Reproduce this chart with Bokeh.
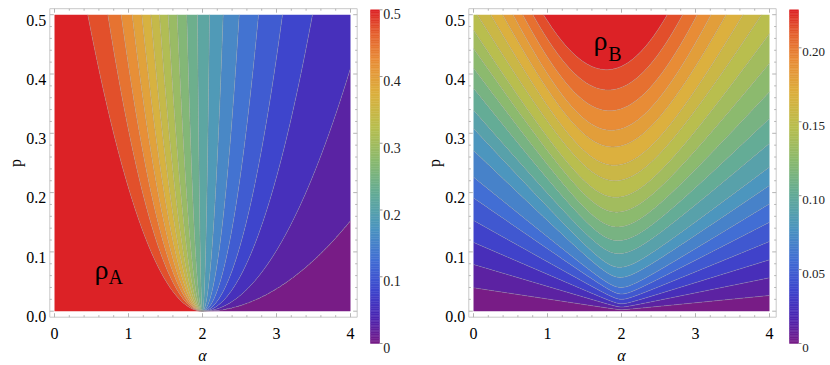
import numpy as np
from bokeh.plotting import figure
from bokeh.layouts import row
from bokeh.core.properties import value
from bokeh.embed import file_html
from bokeh.resources import INLINE

# ---------------- values ----------------
# rho_A : contour levels (0.025 apart)
levels_A = [0.025, 0.05, 0.075, 0.1, 0.125, 0.15, 0.175, 0.2, 0.225, 0.25,
            0.275, 0.3, 0.325, 0.35, 0.375, 0.4, 0.425, 0.45, 0.475]
max_A = 0.5
# contours 1-2 leave through the right edge (alpha = 4) at these p
right_edge_p_A = [0.153, 0.41]
# contours 3-19 leave through the top edge (p = 0.5) at these alpha
top_edge_alpha_A = [3.486, 3.081, 2.757, 2.496, 2.279, 2.095, 1.932, 1.788,
                    1.658, 1.536, 1.419, 1.302, 1.180, 1.050, 0.901, 0.721, 0.450]

# rho_B : contour levels (0.01 apart)
levels_B = [0.01, 0.02, 0.03, 0.04, 0.05, 0.06, 0.07, 0.08, 0.09, 0.10,
            0.11, 0.12, 0.13, 0.14, 0.15, 0.16, 0.17, 0.18, 0.19, 0.20]
max_B = 0.2257
# p where each contour meets alpha = 0 (left edge)
left_p_B = [0.0395, 0.0788, 0.116, 0.153, 0.191, 0.226, 0.271, 0.308, 0.339, 0.376,
            0.41, 0.443, 0.474, 0.51, 0.55, 0.59, 0.63, 0.67, 0.71, 0.75]
# p where each contour meets alpha = 4 (right edge)
right_p_B = [0.0265, 0.0563, 0.0867, 0.1175, 0.150, 0.181, 0.212, 0.243, 0.283, 0.325,
             0.37, 0.418, 0.468, 0.52, 0.575, 0.635, 0.70, 0.77, 0.85, 0.95]
# lowest point of each contour (alpha, p)
vertex_alpha_B = [2.0, 2.0, 2.0, 2.0, 2.0, 1.99, 1.98, 1.97, 1.96, 1.95,
                  1.94, 1.93, 1.92, 1.91, 1.90, 1.88, 1.86, 1.84, 1.82, 1.80]
vertex_p_B = [0.0024, 0.007, 0.0125, 0.020, 0.029, 0.040, 0.057, 0.074, 0.097, 0.119,
              0.142, 0.167, 0.192, 0.220, 0.246, 0.277, 0.305, 0.338, 0.373, 0.407]
# roundness of each contour's bottom
round_B = [0.02, 0.03, 0.04, 0.05, 0.06, 0.08, 0.10, 0.12, 0.15, 0.18,
           0.21, 0.25, 0.29, 0.33, 0.38, 0.44, 0.50, 0.60, 0.70, 0.80]

x_ticks = [0, 1, 2, 3, 4]
x_tick_labels = ["0", "1", "2", "3", "4"]
y_ticks = [0.0, 0.1, 0.2, 0.3, 0.4, 0.5]
y_tick_labels = ["0.0", "0.1", "0.2", "0.3", "0.4", "0.5"]
x_minor = [0.2 * i for i in range(21)]
y_minor = [0.02 * i for i in range(26)]
cb_ticks_A = [0, 0.1, 0.2, 0.3, 0.4, 0.5]
cb_labels_A = ["0", "0.1", "0.2", "0.3", "0.4", "0.5"]
cb_ticks_B = [0, 0.05, 0.10, 0.15, 0.20]
cb_labels_B = ["0", "0.05", "0.10", "0.15", "0.20"]

# ---------------- colour scale (Mathematica "Rainbow"-like) ----------------
STOPS = [(0.00, 120, 28, 134), (0.08, 75, 38, 178), (0.16, 62, 70, 205),
         (0.25, 66, 110, 212), (0.35, 76, 150, 190), (0.45, 100, 172, 150),
         (0.55, 140, 186, 110), (0.65, 185, 190, 78), (0.75, 220, 176, 62),
         (0.85, 232, 140, 54), (0.93, 228, 95, 45), (1.00, 220, 34, 38)]


def cmap(f):
    f = min(max(f, 0.0), 1.0)
    pos = [s[0] for s in STOPS]
    r = np.interp(f, pos, [s[1] for s in STOPS])
    g = np.interp(f, pos, [s[2] for s in STOPS])
    b = np.interp(f, pos, [s[3] for s in STOPS])
    return "#%02x%02x%02x" % (int(round(r)), int(round(g)), int(round(b)))


# ---------------- fields ----------------
alpha = np.linspace(0, 4, 801)
pp = np.linspace(0, 0.5, 501)
AA, PP = np.meshgrid(alpha, pp)

# rho_A depends on t = (alpha-2)/sqrt(p)
t_cross = np.concatenate([(4 - 2) / np.sqrt(np.array(right_edge_p_A)),
                          (np.array(top_edge_alpha_A) - 2) / np.sqrt(0.5)])
order = np.argsort(t_cross)
xp = np.concatenate([[-3.0], t_cross[order], [1e7]])
fp = np.concatenate([[max_A], np.array(levels_A)[order], [0.0]])
with np.errstate(divide="ignore", invalid="ignore"):
    T = np.where(PP > 0, (AA - 2) / np.sqrt(np.maximum(PP, 1e-12)), np.sign(AA - 2) * 1e7)
ZA = np.interp(T, xp, fp)

# rho_B from its contour geometry
am = np.array(vertex_alpha_B)[:, None]
pm = np.array(vertex_p_B)[:, None]
pl = np.array(left_p_B)[:, None]
pr = np.array(right_p_B)[:, None]
w = np.array(round_B)[:, None]
a = alpha[None, :]
s = np.where(a <= am, (am - a) / am, (a - am) / (4 - am))
pe = np.where(a <= am, pl, pr)
phi = (np.sqrt(s ** 2 + w ** 2) - w) / (np.sqrt(1 + w ** 2) - w)
PC = pm + (pe - pm) * phi
PC = PC + 1e-7 * np.arange(len(levels_B))[:, None]
PC = np.maximum.accumulate(PC, axis=0)
ZB = np.zeros_like(AA)
for j in range(len(alpha)):
    xpj = np.concatenate([[0.0], PC[:, j], [PC[-1, j] + 0.4]])
    fpj = np.concatenate([[0.0], levels_B, [max_B]])
    ZB[:, j] = np.interp(pp, xpj, fpj)

# ---------------- layout (page pixels; the page has no body margin) ----------------
FONT = "Liberation Serif"
PAGE_TOP = 0
H = 363
PXA = 74.0     # pixels per unit of alpha
PXP = 593.0    # pixels per unit of p
P0_Y = 310.7   # page y of p = 0
FRAME_COL = "#c8c8c8"


def main_fig(Z, levels, vmax, fig_x0, fig_w, alpha0_x, sub, rho_pos, sub_pos):
    def ax_(px):
        return (px - alpha0_x) / PXA

    def py_(py):
        return (P0_Y - py) / PXP

    fig = figure(width=fig_w, height=H,
                 x_range=(ax_(fig_x0), ax_(fig_x0 + fig_w)),
                 y_range=(py_(PAGE_TOP + H), py_(PAGE_TOP)),
                 min_border=0, x_axis_location=None, y_axis_location=None,
                 output_backend="svg", toolbar_location=None)
    fig.outline_line_color = None
    fig.background_fill_color = "white"
    fig.border_fill_color = "white"
    for g in fig.grid:
        g.visible = False

    lev = [-0.001] + list(levels) + [vmax + 0.001]
    n = len(lev) - 1
    colors = [cmap(k / (n - 1)) for k in range(n)]
    fig.contour(alpha, pp, Z, levels=lev, fill_color=colors,
                line_color="#9a9a9a", line_alpha=0.7, line_width=0.6)

    # frame box
    bx0, bx1 = ax_(alpha0_x - 4.7), ax_(alpha0_x + 4 * PXA + 6.7)
    by0, by1 = py_(P0_Y + 6.0), py_(P0_Y - 0.5 * PXP - 6.0)
    fig.quad(left=[bx0], right=[bx1], bottom=[by0], top=[by1], fill_color=None,
             line_color=FRAME_COL, line_width=1)

    # ticks on the frame (inward)
    x0s, y0s, x1s, y1s = [], [], [], []
    for t in x_minor:
        ln = (4.0 if any(abs(t - m) < 1e-9 for m in x_ticks) else 2.0) / PXP
        x0s += [t, t]; x1s += [t, t]; y0s += [by0, by1]; y1s += [by0 + ln, by1 - ln]
    for t in y_minor:
        ln = (4.0 if any(abs(t - m) < 1e-9 for m in y_ticks) else 2.0) / PXA
        y0s += [t, t]; y1s += [t, t]; x0s += [bx0, bx1]; x1s += [bx0 + ln, bx1 - ln]
    fig.segment(x0=x0s, y0=y0s, x1=x1s, y1=y1s, line_color="#b4b4b4", line_width=1)

    # tick labels
    fig.text(x=x_ticks, y=[py_(P0_Y + 22.6)] * len(x_ticks), text=x_tick_labels,
             text_font=value(FONT), text_font_size="16px", text_align="center",
             text_baseline="alphabetic", text_color="black")
    fig.text(x=[ax_(alpha0_x - 8.3)] * len(y_ticks), y=[t - 5.3 / PXP for t in y_ticks],
             text=y_tick_labels, text_font=value(FONT), text_font_size="16px",
             text_align="right", text_baseline="alphabetic", text_color="black")
    # axis titles
    fig.text(x=[2.0], y=[py_(355.4)], text=["α"], text_font=value(FONT),
             text_font_size="16px", text_font_style="italic", text_align="center",
             text_baseline="alphabetic", text_color="black")
    fig.text(x=[ax_(alpha0_x - 38.8)], y=[0.25], text=["p"], text_font=value(FONT),
             text_font_size="16px", text_align="center", text_baseline="alphabetic",
             angle=np.pi / 2, text_color="black")
    # rho labels
    fig.text(x=[rho_pos[0]], y=[rho_pos[1]], text=["ρ"], text_font=value(FONT),
             text_font_size="28px", text_baseline="alphabetic", text_align="left",
             text_color="black")
    fig.text(x=[sub_pos[0]], y=[sub_pos[1]], text=[sub], text_font=value(FONT),
             text_font_size="20px", text_baseline="alphabetic", text_align="left",
             text_color="black")
    return fig


def bar_fig(vmax, ticks, labels, fig_x0, fig_w, bar_x, font_px, label_x):
    top_y, bot_y = 9.3, 343.0
    ppu = (bot_y - top_y) / vmax

    def vy(py):
        return (bot_y - py) / ppu

    def bx(px):
        return (px - bar_x) / 9.0

    fig = figure(width=fig_w, height=H, x_range=(bx(fig_x0), bx(fig_x0 + fig_w)),
                 y_range=(vy(PAGE_TOP + H), vy(PAGE_TOP)), min_border=0,
                 x_axis_location=None, y_axis_location=None,
                 output_backend="svg", toolbar_location=None)
    fig.outline_line_color = None
    fig.background_fill_color = "white"
    fig.border_fill_color = "white"
    for g in fig.grid:
        g.visible = False
    n = 200
    edges = np.linspace(0, vmax, n + 1)
    cols = [cmap((edges[i] + edges[i + 1]) / 2 / vmax) for i in range(n)]
    fig.quad(left=0, right=1, bottom=edges[:-1], top=edges[1:], fill_color=cols,
             line_color=cols, line_width=0.5)
    fig.segment(x0=[1.0] * len(ticks), y0=ticks, x1=[1.0 + 3.0 / 9.0] * len(ticks), y1=ticks,
                line_color="#999999", line_width=1)
    fig.text(x=[bx(label_x)] * len(ticks), y=[t - 0.33 * font_px / ppu for t in ticks],
             text=labels, text_font=value(FONT), text_font_size="%dpx" % font_px,
             text_align="left", text_baseline="alphabetic", text_color="#222222")
    return fig


figA = main_fig(ZA, levels_A, max_A, 0, 362, 54.0, "A", (0.54, 0.070), (0.73, 0.057))
barA = bar_fig(max_A, cb_ticks_A, cb_labels_A, 362, 58, 370.0, 14, 382.7)
figB = main_fig(ZB, levels_B, max_B, 420, 362, 473.0, "B", (1.62, 0.456), (1.82, 0.434))
barB = bar_fig(max_B, cb_ticks_B, cb_labels_B, 782, 46, 789.0, 13, 801.7)

layout = row(figA, barA, figB, barB)

open("out.html", "w").write(file_html(layout, INLINE))
